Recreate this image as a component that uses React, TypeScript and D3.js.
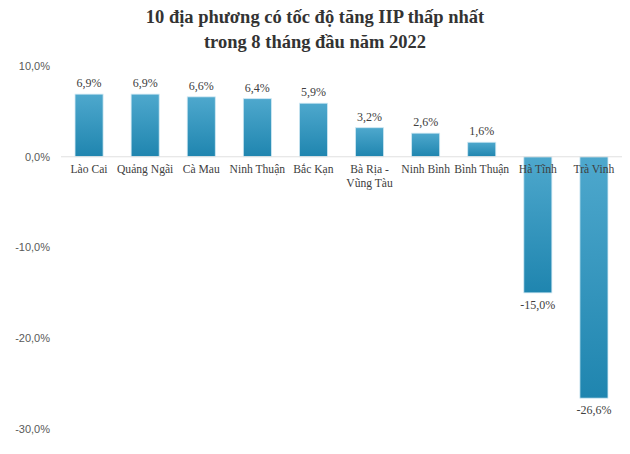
import React from 'react';
import * as d3 from 'd3';

// data
const provinces = ['Lào Cai', 'Quảng Ngãi', 'Cà Mau', 'Ninh Thuận', 'Bắc Kạn', 'Bà Rịa - Vũng Tàu', 'Ninh Bình', 'Bình Thuận', 'Hà Tĩnh', 'Trà Vinh'];
const growth = [6.9, 6.9, 6.6, 6.4, 5.9, 3.2, 2.6, 1.6, -15.0, -26.6];
const yTicks = [10, 0, -10, -20, -30];
const titleLines = ['10 địa phương có tốc độ tăng IIP thấp nhất', 'trong 8 tháng đầu năm 2022'];

const W = 630;
const H = 454;
const margin = { top: 66, right: 8, bottom: 25, left: 61 };

const fmt = (v: number) => v.toFixed(1).replace('.', ',') + '%';

// two-line labels where the source wrapped them
const labelLines = (name: string) => (name === 'Bà Rịa - Vũng Tàu' ? ['Bà Rịa -', 'Vũng Tàu'] : [name]);

export default function App() {
  const x = d3.scaleBand<string>()
    .domain(provinces)
    .range([margin.left, W - margin.right])
    .paddingInner(0.5)
    .paddingOuter(0.25);

  const y = d3.scaleLinear()
    .domain([10, -30])
    .range([margin.top, H - margin.bottom]);

  const y0 = y(0);

  return (
    <svg width={W} height={H} style={{ position: 'absolute', left: 0, top: 0, background: '#fff' }}>
      <defs>
        <linearGradient id="barFill" x1="0" y1="0" x2="0" y2="1">
          <stop offset="0%" stopColor="#4ea8cd" />
          <stop offset="100%" stopColor="#1f85af" />
        </linearGradient>
      </defs>

      {/* title */}
      <g fontFamily="'Liberation Serif', serif" fontWeight="bold" fontSize={18.5} fill="#333" textAnchor="middle">
        {titleLines.map((t, i) => (
          <text key={i} x={W / 2} y={23 + i * 25}>{t}</text>
        ))}
      </g>

      {/* y tick labels */}
      <g fontFamily="'Liberation Sans Narrow', 'Liberation Sans', sans-serif" fontSize={11} fill="#595959" textAnchor="end">
        {yTicks.map(t => (
          <text key={t} x={50} y={y(t)} dy="0.35em">{fmt(t)}</text>
        ))}
      </g>

      {/* bars */}
      {provinces.map((p, i) => {
        const v = growth[i];
        const top = Math.min(y(v), y0);
        const h = Math.abs(y(v) - y0);
        return (
          <rect key={p} x={x(p)} y={top} width={x.bandwidth()} height={h}
            fill="url(#barFill)" stroke="#cfe8f3" strokeWidth={0.8} />
        );
      })}

      {/* zero line */}
      <line x1={margin.left} x2={W - margin.right} y1={y0} y2={y0} stroke="#e0e0e0" strokeWidth={1.2} />

      {/* value labels */}
      <g fontFamily="'Liberation Serif', serif" fontSize={12} fill="#404040" textAnchor="middle">
        {provinces.map((p, i) => {
          const v = growth[i];
          const cx = (x(p) ?? 0) + x.bandwidth() / 2;
          const ly = v >= 0 ? y(v) - 7 : y(v) + 16;
          return <text key={p} x={cx} y={ly}>{fmt(v)}</text>;
        })}
      </g>

      {/* category labels */}
      <g fontFamily="'Liberation Serif', serif" fontSize={11.6} fill="#404040" textAnchor="middle">
        {provinces.map(p => {
          const cx = (x(p) ?? 0) + x.bandwidth() / 2;
          return (
            <text key={p} x={cx} y={y0 + 16}>
              {labelLines(p).map((l, j) => (
                <tspan key={j} x={cx} dy={j === 0 ? 0 : 14}>{l}</tspan>
              ))}
            </text>
          );
        })}
      </g>
    </svg>
  );
}
